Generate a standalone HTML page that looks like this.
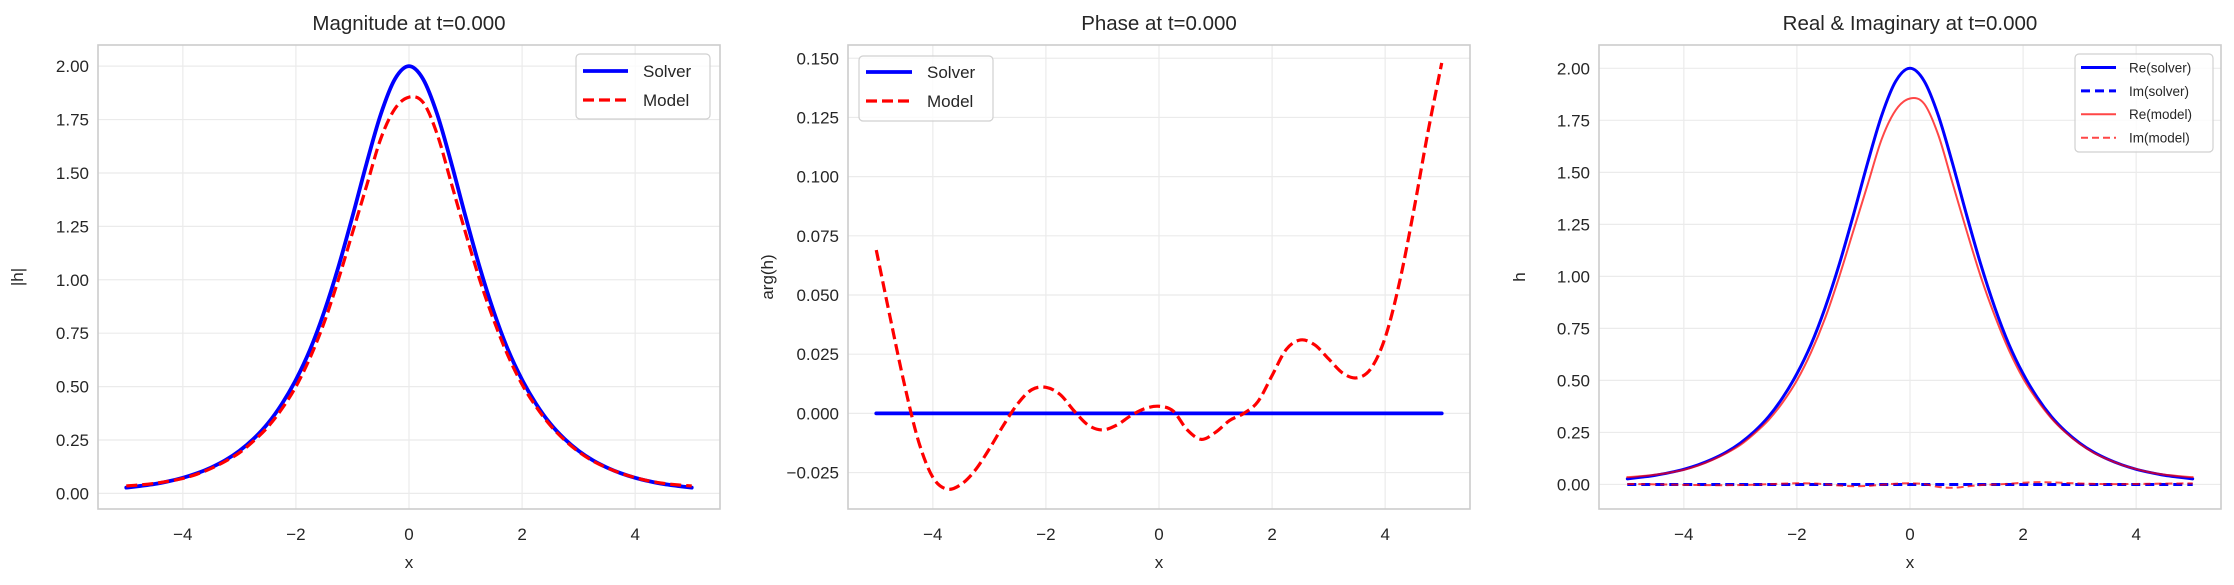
<!DOCTYPE html>
<html><head><meta charset="utf-8"><style>
html,body{margin:0;padding:0;background:#fff}
svg{display:block;font-family:"Liberation Sans",Arial,sans-serif}
</style></head><body>
<svg id="fig" width="2234" height="585" viewBox="0 0 2234 585" xmlns="http://www.w3.org/2000/svg"></svg>
<script>
const xs = [-5,-4.75,-4.5,-4.25,-4,-3.75,-3.5,-3.25,-3,-2.75,-2.5,-2.25,-2,-1.75,-1.5,-1.25,-1,-0.75,-0.5,-0.25,0,0.25,0.5,0.75,1,1.25,1.5,1.75,2,2.25,2.5,2.75,3,3.25,3.5,3.75,4,4.25,4.5,4.75,5];
const solverMag = [0.027,0.035,0.044,0.057,0.073,0.094,0.121,0.155,0.199,0.255,0.326,0.418,0.532,0.673,0.850,1.059,1.296,1.545,1.774,1.939,2.0,1.939,1.774,1.545,1.296,1.059,0.850,0.673,0.532,0.418,0.326,0.255,0.199,0.155,0.121,0.094,0.073,0.057,0.044,0.035,0.027];
const modelMag = [0.035,0.04,0.047,0.057,0.07,0.09,0.117,0.15,0.19,0.245,0.31,0.395,0.50,0.635,0.80,1.0,1.22,1.44,1.66,1.80,1.855,1.83,1.68,1.45,1.22,1.0,0.81,0.645,0.51,0.405,0.318,0.25,0.195,0.152,0.12,0.094,0.074,0.058,0.047,0.04,0.035];
const solverPhase = [0,0,0,0,0,0,0,0,0,0,0,0,0,0,0,0,0,0,0,0,0,0,0,0,0,0,0,0,0,0,0,0,0,0,0,0,0,0,0,0,0];
const modelPhase = [0.069,0.04,0.012,-0.012,-0.027,-0.032,-0.030,-0.024,-0.015,-0.005,0.004,0.010,0.011,0.008,0.001,-0.005,-0.007,-0.005,-0.001,0.002,0.003,0.001,-0.007,-0.011,-0.008,-0.003,0.0,0.005,0.016,0.027,0.031,0.029,0.023,0.017,0.015,0.019,0.032,0.055,0.085,0.118,0.148];
const reSolver = [0.027,0.035,0.044,0.057,0.073,0.094,0.121,0.155,0.199,0.255,0.326,0.418,0.532,0.673,0.850,1.059,1.296,1.545,1.774,1.939,2.0,1.939,1.774,1.545,1.296,1.059,0.850,0.673,0.532,0.418,0.326,0.255,0.199,0.155,0.121,0.094,0.073,0.057,0.044,0.035,0.027];
const imSolver = [0,0,0,0,0,0,0,0,0,0,0,0,0,0,0,0,0,0,0,0,0,0,0,0,0,0,0,0,0,0,0,0,0,0,0,0,0,0,0,0,0];
const reModel = [0.035,0.04,0.047,0.057,0.07,0.09,0.117,0.15,0.19,0.245,0.31,0.395,0.50,0.635,0.80,1.0,1.22,1.44,1.66,1.80,1.855,1.83,1.68,1.45,1.22,1.0,0.81,0.645,0.51,0.405,0.318,0.25,0.195,0.152,0.12,0.094,0.074,0.058,0.047,0.04,0.035];
const imModel = [0.0024,0.0016,0.0006,-0.0007,-0.0019,-0.0029,-0.0035,-0.0036,-0.0029,-0.0012,0.0012,0.004,0.0055,0.005,0.0008,-0.005,-0.0085,-0.0072,-0.0017,0.0036,0.0056,0.0018,-0.0118,-0.016,-0.0098,-0.003,0.0,0.0032,0.0082,0.011,0.0099,0.0073,0.0045,0.0026,0.0018,0.0018,0.0024,0.0032,0.004,0.0047,0.0052];
const xTicks = [-4,-2,0,2,4];
const yTicks1 = [0,0.25,0.5,0.75,1.0,1.25,1.5,1.75,2.0];
const yTickLabels1 = ["0.00","0.25","0.50","0.75","1.00","1.25","1.50","1.75","2.00"];
const yTicks2 = [-0.025,0,0.025,0.05,0.075,0.1,0.125,0.15];
const yTickLabels2 = ["−0.025","0.000","0.025","0.050","0.075","0.100","0.125","0.150"];

const NS = "http://www.w3.org/2000/svg";
const fig = document.getElementById('fig');
function mk(tag, attrs, parent){
  const e = document.createElementNS(NS, tag);
  for (const k in attrs) e.setAttribute(k, attrs[k]);
  (parent||fig).appendChild(e);
  return e;
}
function smoothPath(px, py){
  let d = `M${px[0].toFixed(2)},${py[0].toFixed(2)}`;
  for (let i=0;i<px.length-1;i++){
    const x0=px[Math.max(i-1,0)], y0=py[Math.max(i-1,0)];
    const x1=px[i], y1=py[i], x2=px[i+1], y2=py[i+1];
    const x3=px[Math.min(i+2,px.length-1)], y3=py[Math.min(i+2,px.length-1)];
    const c1x=x1+(x2-x0)/6, c1y=y1+(y2-y0)/6, c2x=x2-(x3-x1)/6, c2y=y2-(y3-y1)/6;
    d += ` C${c1x.toFixed(2)},${c1y.toFixed(2)} ${c2x.toFixed(2)},${c2y.toFixed(2)} ${x2.toFixed(2)},${y2.toFixed(2)}`;
  }
  return d;
}
const TICK_FS = 17, TITLE_FS = 20.5;
function panel(cfg){
  const L=cfg.left, T=45, W=622, B=509, H=B-T;
  const g = mk('g', {});
  
  
  const sx = v => L + (v - (-5.5)) / 11 * W;
  const sy = v => B - (v - cfg.ymin) / (cfg.ymax - cfg.ymin) * H;
  xTicks.forEach(t => {
    const l = mk('line', {x1:sx(t),x2:sx(t),y1:T,y2:B,stroke:'#ebebeb','stroke-width':1.2}, g);
    
    
    const tx = mk('text', {x:sx(t),y:540,'text-anchor':'middle','font-size':TICK_FS,fill:'#262626'}, g);
    tx.textContent = t<0 ? '−'+Math.abs(t) : String(t);
    
    
  });
  cfg.yt.forEach((t,i) => {
    const l = mk('line', {x1:L,x2:L+W,y1:sy(t),y2:sy(t),stroke:'#ebebeb','stroke-width':1.2}, g);
    
    
    const tx = mk('text', {x:L-9,y:sy(t)+6,'text-anchor':'end','font-size':TICK_FS,fill:'#262626'}, g);
    tx.textContent = cfg.ytl[i];
    
    
  });
  const fr = mk('rect', {x:L,y:T,width:W,height:H,fill:'none',stroke:'#cccccc','stroke-width':1.6}, g);
  
  
  const ti = mk('text', {x:L+W/2,y:30,'text-anchor':'middle','font-size':TITLE_FS,fill:'#262626'}, g);
  ti.textContent = cfg.title;
  
  
  const xl = mk('text', {x:L+W/2,y:568,'text-anchor':'middle','font-size':TICK_FS,fill:'#262626'}, g);
  xl.textContent = 'x';
  
  
  const yl = mk('text', {x:0,y:0,'text-anchor':'middle','font-size':TICK_FS,fill:'#262626',transform:`translate(${cfg.ylx},${(T+B)/2}) rotate(-90)`}, g);
  yl.textContent = cfg.ylabel;
  
  
  const clipId = 'clip'+cfg.left;
  const cp = mk('clipPath', {id:clipId}, g);
  mk('rect', {x:L,y:T,width:W,height:H}, cp);
  cfg.series.forEach(s => {
    const p = mk('path', {d:smoothPath(xs.map(sx), s.data.map(sy)),fill:'none',stroke:s.color,'stroke-width':s.w,'stroke-dasharray':s.dash||'none','stroke-linecap':s.dash?'butt':'round','stroke-linejoin':'round',opacity:s.op||1,'clip-path':`url(#${clipId})`}, g);
    
    
  });
  const lg = cfg.legend;
  const lgG = mk('g', {}, g);
  
  
  mk('rect', {x:lg.x,y:lg.y,width:lg.w,height:lg.h,rx:4,fill:'#fff','fill-opacity':0.8,stroke:'#d0d0d0','stroke-width':1.2}, lgG);
  cfg.series.forEach((s,i) => {
    const yy = lg.y + lg.r0 + i*lg.dy;
    const ent = mk('g', {}, lgG);
    
    
    mk('line', {x1:lg.x+lg.h0,x2:lg.x+lg.h1,y1:yy,y2:yy,stroke:s.color,'stroke-width':s.w,'stroke-dasharray':s.dash||'none',opacity:s.op||1}, ent);
    const t = mk('text', {x:lg.x+lg.tx,y:yy+lg.fs*0.36,'font-size':lg.fs,fill:'#262626'}, ent);
    t.textContent = s.label;
  });
}
panel({name:'magnitude-panel',left:98,ymin:-0.073,ymax:2.099,yt:yTicks1,ytl:yTickLabels1,title:'Magnitude at t=0.000',ylabel:'|h|',ylx:23,
  series:[{id:'solver-magnitude-line',label:'Solver',data:solverMag,color:'#0000ff',w:3.8},
          {id:'model-magnitude-line',label:'Model',data:modelMag,color:'#ff0000',w:3.2,dash:'11 5'}],
  legend:{x:576,y:54,w:134,h:65,r0:17,dy:29,h0:7,h1:52,tx:67,fs:17}});
panel({name:'phase-panel',left:848,ymin:-0.0404,ymax:0.1556,yt:yTicks2,ytl:yTickLabels2,title:'Phase at t=0.000',ylabel:'arg(h)',ylx:773,
  series:[{id:'solver-phase-line',label:'Solver',data:solverPhase,color:'#0000ff',w:3.8},
          {id:'model-phase-line',label:'Model',data:modelPhase,color:'#ff0000',w:3.2,dash:'11 5'}],
  legend:{x:859,y:56,w:134,h:65,r0:16,dy:29,h0:7,h1:53,tx:68,fs:17}});
panel({name:'real-imag-panel',left:1599,ymin:-0.118,ymax:2.112,yt:yTicks1,ytl:yTickLabels1,title:'Real & Imaginary at t=0.000',ylabel:'h',ylx:1525,
  series:[{id:'re-solver-line',label:'Re(solver)',data:reSolver,color:'#0000ff',w:3},
          {id:'im-solver-line',label:'Im(solver)',data:imSolver,color:'#0000ff',w:3,dash:'9 5'},
          {id:'re-model-line',label:'Re(model)',data:reModel,color:'#ff0000',w:2,op:0.72},
          {id:'im-model-line',label:'Im(model)',data:imModel,color:'#ff0000',w:2,op:0.72,dash:'7 4'}],
  legend:{x:2075,y:54,w:138,h:98,r0:13.5,dy:23.4,h0:6,h1:41,tx:54,fs:13.5}});
</script>
</body></html>
